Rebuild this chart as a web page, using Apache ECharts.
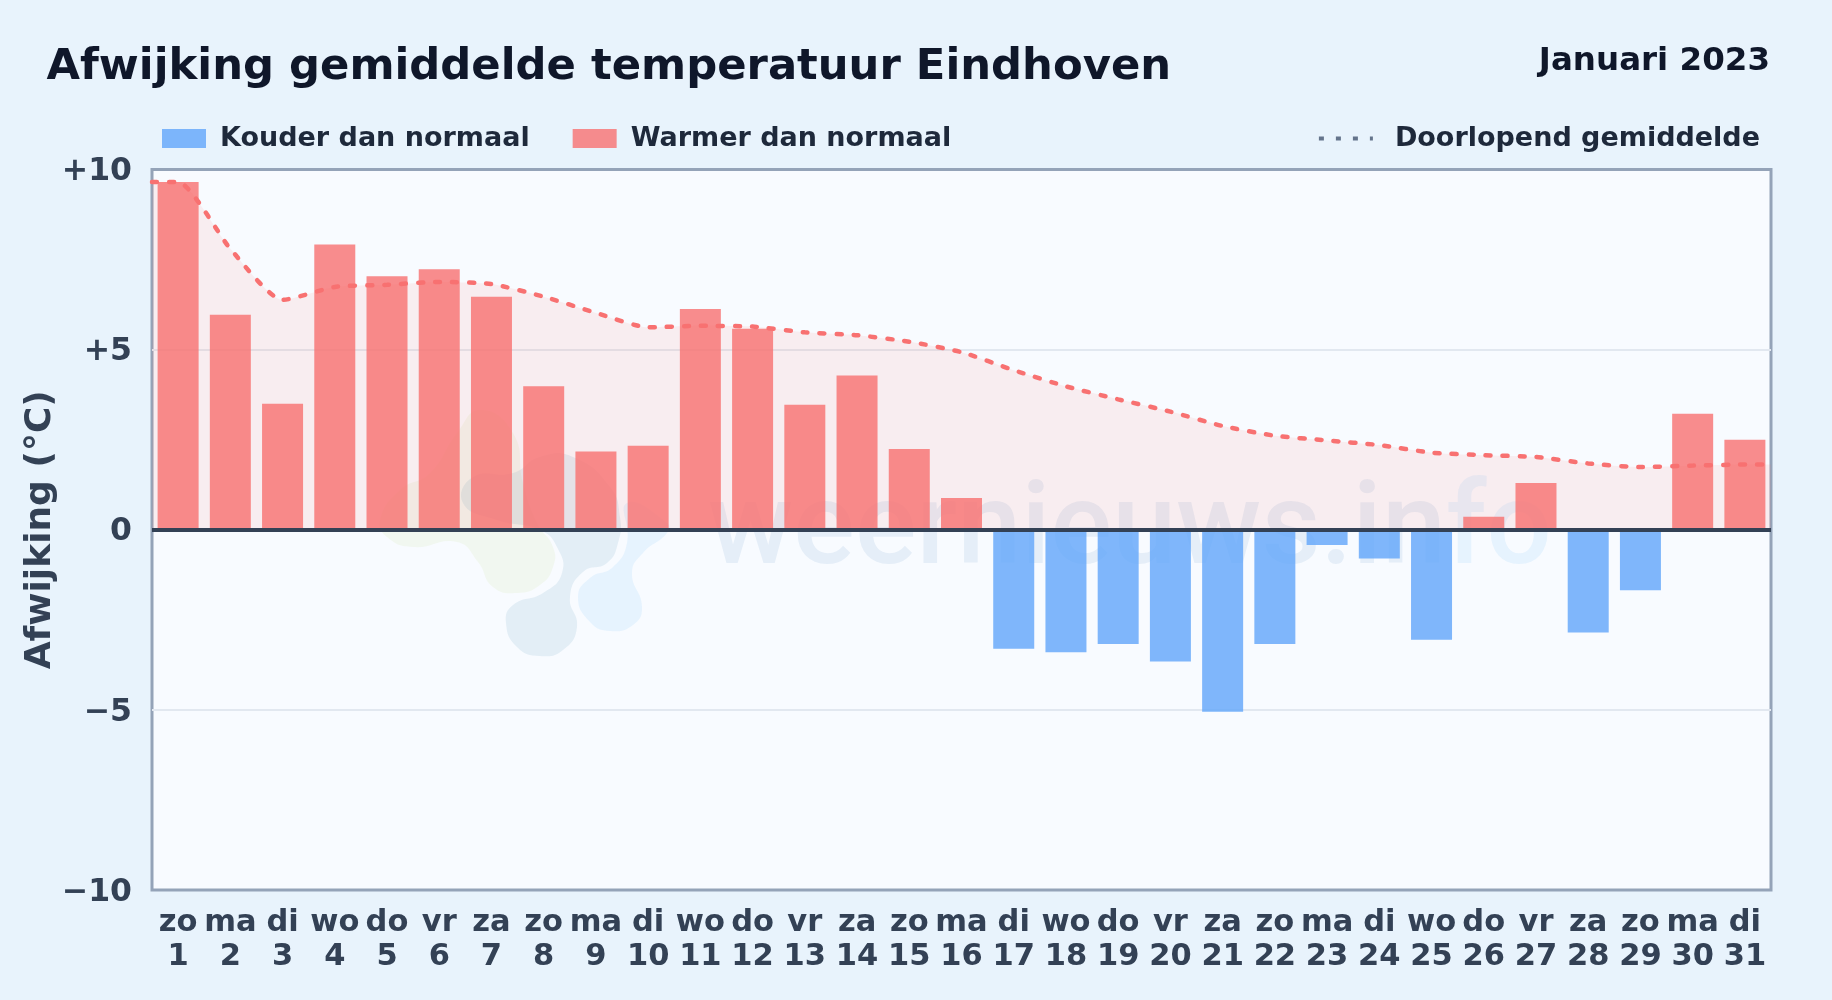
<!DOCTYPE html>
<html><head><meta charset="utf-8">
<style>html,body{margin:0;padding:0;background:#e8f3fc}#c{width:1832px;height:1000px}</style>
<script src="https://cdn.jsdelivr.net/npm/echarts@6/dist/echarts.min.js"></script>
</head><body><div id="c"></div>
<script>
const weekdays = ['zo','ma','di','wo','do','vr','za','zo','ma','di','wo','do','vr','za','zo','ma','di','wo','do','vr','za','zo','ma','di','wo','do','vr','za','zo','ma','di'];
const days = [1,2,3,4,5,6,7,8,9,10,11,12,13,14,15,16,17,18,19,20,21,22,23,24,25,26,27,28,29,30,31];
const deviations = [9.65,5.97,3.5,7.92,7.04,7.23,6.47,3.98,2.17,2.33,6.13,5.58,3.47,4.28,2.24,0.88,-3.3,-3.4,-3.17,-3.66,-5.05,-3.17,-0.42,-0.8,-3.05,0.36,1.3,-2.85,-1.68,3.22,2.5];
const runningMean = [9.65,7.8,6.38,6.74,6.8,6.88,6.82,6.47,6.02,5.62,5.66,5.64,5.48,5.4,5.22,4.93,4.43,3.98,3.62,3.28,2.88,2.61,2.48,2.35,2.14,2.07,2.02,1.84,1.74,1.78,1.81];
const yTicks = {'10':'+10','5':'+5','0':'0','-5':'\u22125','-10':'\u221210'};
const names = {cold:'Kouder dan normaal',warm:'Warmer dan normaal',mean:'Doorlopend gemiddelde'};

const font = 'DejaVu Sans';
const chart = echarts.init(document.getElementById('c'));
const lineData = [[0.5,runningMean[0]]].concat(runningMean.map((v,i)=>[days[i],v]),[[31.5,runningMean[30]]]);
chart.setOption({
  animation:false,
  backgroundColor:'#e8f3fc',
  textStyle:{fontFamily:font},
  title:[
    {text:'Afwijking gemiddelde temperatuur Eindhoven',left:41.5,top:41,textStyle:{fontFamily:font,fontWeight:'bold',fontSize:43.3,color:'#0f172a'}},
    {text:'Januari 2023',right:57,top:40,textStyle:{fontFamily:font,fontWeight:'bold',fontSize:32.5,color:'#0f172a'}}
  ],
  legend:[
    {left:157,top:120,itemWidth:44,itemHeight:19,itemGap:43,icon:'rect',selectedMode:false,
     textStyle:{fontFamily:font,fontWeight:'bold',fontSize:27,color:'#1e293b',padding:[0,0,0,9]},
     data:[names.cold,names.warm]},
    {right:67,top:120,itemWidth:54,itemHeight:19,selectedMode:false,
     textStyle:{fontFamily:font,fontWeight:'bold',fontSize:27,color:'#1e293b',padding:[0,0,0,17]},
     data:[{name:names.mean,lineStyle:{color:'#64748b',width:4,type:[5,12],cap:'butt',opacity:1},itemStyle:{opacity:0}}]}
  ],
  grid:{left:152,right:61,top:169.5,bottom:110,outerBoundsMode:'none',show:true,backgroundColor:'#f8fbff',borderColor:'#94a3b8',borderWidth:3},
  xAxis:[
    {type:'category',data:days.map((d,i)=>weekdays[i]+'\n'+d),position:'bottom',
     axisLine:{show:false,onZero:false},axisTick:{show:false},splitLine:{show:false},
     axisLabel:{interval:0,fontFamily:font,fontWeight:'bold',fontSize:30.5,color:'#334155',lineHeight:34,margin:16}},
    {type:'value',min:0.5,max:31.5,show:false}
  ],
  yAxis:{type:'value',min:-10,max:10,interval:5,
    name:'Afwijking (\u00b0C)',nameLocation:'middle',nameGap:93.5,nameRotate:90,nameMoveOverlap:false,
    nameTextStyle:{fontFamily:font,fontWeight:'bold',fontSize:36,color:'#334155'},
    axisLine:{show:false},axisTick:{show:false},
    splitLine:{showMinLine:false,showMaxLine:false,lineStyle:{color:'#e2e8f0',width:2}},
    axisLabel:{fontFamily:font,fontWeight:'bold',fontSize:31.5,color:'#334155',margin:20,verticalAlign:'top',lineHeight:5,formatter:v=>yTicks[String(v)]}},
  series:[
    {name:names.cold,type:'bar',stack:'d',barWidth:41,itemStyle:{color:'rgba(96,165,250,0.8)'},z:3,
     data:deviations.map(v=>v<0?v:null)},
    {name:names.warm,type:'bar',stack:'d',barWidth:41,itemStyle:{color:'rgba(248,113,113,0.8)'},z:3,
     data:deviations.map(v=>v>=0?v:null),
     markLine:{silent:true,symbol:'none',label:{show:false},animation:false,z:6,
       lineStyle:{color:'#334155',width:4,type:'solid'},data:[{yAxis:0}]}},
    {name:names.mean,type:'line',xAxisIndex:1,data:lineData,showSymbol:false,symbol:'none',z:4,
     smooth:0.2,
     lineStyle:{color:'#f87171',width:4.5,type:[5,12],cap:'round'},
     areaStyle:{color:'rgba(252,110,105,0.14)'}}
  ],
  graphic:[
    {type:'text',z:1,left:708,top:477,silent:true,style:{text:'{a|weernieuws.in}{b|fo}',
      rich:{a:{fontFamily:'Roboto',fontWeight:500,fontSize:115,fill:'rgba(30,110,175,0.085)'},b:{fontFamily:'Roboto',fontWeight:500,fontSize:115,fill:'rgba(56,165,245,0.09)'}}}},
    {type:'polygon',z:1,silent:true,shape:{smooth:0.5,points:[[480,410],[513,433],[523,483],[537,523],[553,547],[553,567],[540,585],[517,593],[493,587],[478,562],[457,542],[413,547],[387,537],[380,520],[400,490],[430,473],[457,433]]},style:{fill:'rgba(190,215,120,0.11)'}},
    {type:'polygon',z:1,silent:true,shape:{smooth:0.5,points:[[540,457],[573,457],[610,487],[620,517],[618,543],[607,563],[583,572],[570,597],[577,627],[563,650],[540,656],[517,647],[506,623],[513,605],[543,593],[562,573],[557,547],[540,530],[497,520],[463,503],[473,477],[513,473]]},style:{fill:'rgba(20,110,160,0.09)'}},
    {type:'polygon',z:1,silent:true,shape:{smooth:0.5,points:[[627,503],[667,523],[667,533],[643,553],[632,573],[642,607],[633,625],[610,631],[590,622],[578,597],[590,578],[613,567],[627,543]]},style:{fill:'rgba(56,170,245,0.09)'}}
  ]
});
</script></body></html>
